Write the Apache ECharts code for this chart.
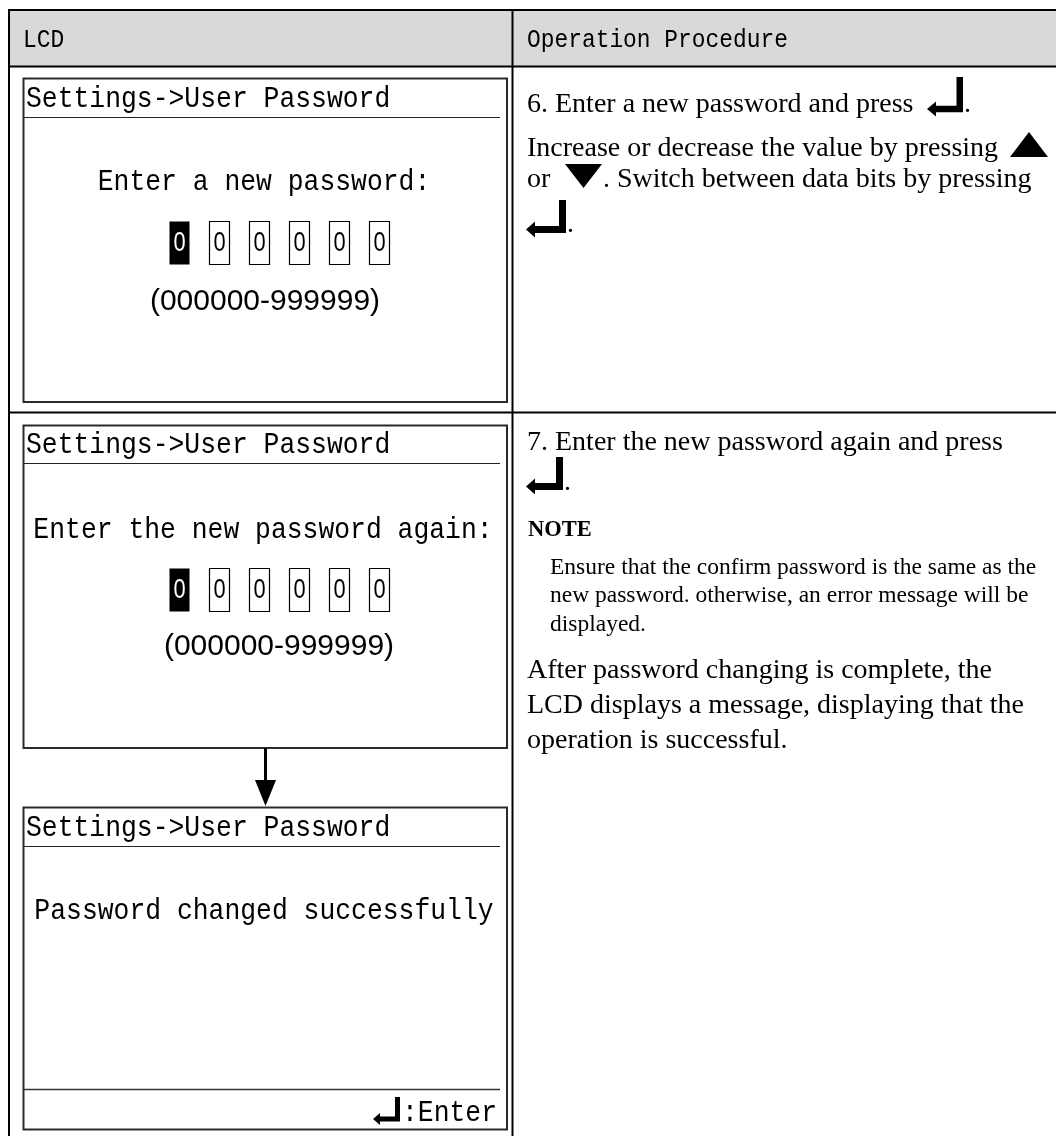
<!DOCTYPE html>
<html>
<head>
<meta charset="utf-8">
<script src="https://cdn.jsdelivr.net/npm/echarts@6/dist/echarts.min.js"></script>
<style>
html,body{margin:0;padding:0;background:#fff;}
#chart{width:1056px;height:1136px;}
</style>
</head>
<body>
<div id="chart"></div>
<script>
// ---- content ----
const headers = ['LCD', 'Operation Procedure'];
const screenTitles = ['Settings->User Password', 'Settings->User Password', 'Settings->User Password'];
const screenPrompts = ['Enter a new password:', 'Enter the new password again:', 'Password changed successfully'];
const passwordDigits = ['0', '0', '0', '0', '0', '0'];
const passwordRange = '(000000-999999)';
const footerLabel = ':Enter';
const step6Title = '6. Enter a new password and press';
const step6Line1 = 'Increase or decrease the value by pressing';
const step6Line2a = 'or';
const step6Line2b = '. Switch between data bits by pressing';
const step7Title = '7. Enter the new password again and press';
const noteTitle = 'NOTE';
const noteLines = ['Ensure that the confirm password is the same as the',
                   'new password. otherwise, an error message will be',
                   'displayed.'];
const resultLines = ['After password changing is complete, the',
                     'LCD displays a message, displaying that the',
                     'operation is successful.'];

// ---- styles ----
const MONO = '"Liberation Mono", "DejaVu Sans Mono", monospace';
const LCD_FONT = '29px ' + MONO;
const LCD_SX = 0.91;
const HEAD_FONT = '26px ' + MONO;
const HEAD_SX = 0.88;
const SANS = '"Liberation Sans", Arimo, sans-serif';
const SERIF = '"Liberation Serif", "DejaVu Serif", serif';
const INK = '#000';

const els = [];
function text(str, x, y, font, align, fill, sx) {
  els.push({type: 'text', silent: true, x: x, y: y, scaleX: sx || 1,
    style: {text: str, x: 0, y: 0, font: font,
    textAlign: align || 'left', textVerticalAlign: 'middle', fill: fill || INK}});
}
function line(x1, y1, x2, y2, w, c) {
  els.push({type: 'line', silent: true, shape: {x1: x1, y1: y1, x2: x2, y2: y2},
    style: {stroke: c || INK, lineWidth: w || 1}});
}
function rect(x, y, w, h, fill, stroke, lw) {
  els.push({type: 'rect', silent: true, shape: {x: x, y: y, width: w, height: h},
    style: {fill: fill || 'none', stroke: stroke || null, lineWidth: lw || 0}});
}
function poly(points) {
  els.push({type: 'polygon', silent: true, shape: {points: points}, style: {fill: INK}});
}
function enterIcon(x0, right, top, yc, t, hl, hh) {
  poly([[right - t, top], [right, top], [right, yc + t / 2], [x0 + hl, yc + t / 2],
        [x0 + hl, yc + hh], [x0, yc], [x0 + hl, yc - hh], [x0 + hl, yc - t / 2],
        [right - t, yc - t / 2]]);
}

// ---- table frame ----
rect(10, 11, 1046, 55, '#d9d9d9');
line(9, 10, 1056, 10, 2);
line(9, 66.5, 1056, 66.5, 2);
line(9, 412.5, 1056, 412.5, 2);
line(9, 9, 9, 1136, 2);
line(512.5, 10, 512.5, 1136, 2);
text(headers[0], 23, 40, HEAD_FONT, 'left', INK, HEAD_SX);
text(headers[1], 527, 40, HEAD_FONT, 'left', INK, HEAD_SX);

// ---- LCD screens ----
const BOX_L = 23.5, BOX_W = 483.5;
function screen(top, bottom, underline, title) {
  rect(BOX_L, top, BOX_W, bottom - top, '#fff', '#2a2a2a', 2);
  line(BOX_L, underline, 500, underline, 1.2, '#222');
  text(title, 26, (top + underline) / 2 + 1, LCD_FONT, 'left', INK, LCD_SX);
}
function digits(top, h) {
  passwordDigits.forEach(function (d, i) {
    const x = 169.5 + 40 * i;
    if (i === 0) {
      rect(x, top, 20, h, '#000');
      text(d, x + 10, top + h / 2, '28px ' + SANS, 'center', '#fff', 0.78);
    } else {
      rect(x, top, 20, h, '#fff', '#000', 1.2);
      text(d, x + 10, top + h / 2, '28px ' + SANS, 'center', INK, 0.78);
    }
  });
}

// screen 1
screen(78.5, 402, 117.5, screenTitles[0]);
text(screenPrompts[0], 264, 182, LCD_FONT, 'center', INK, LCD_SX);
digits(221.5, 43);
text(passwordRange, 265, 302, '30px ' + SANS, 'center');

// screen 2
screen(425.5, 748, 463.5, screenTitles[1]);
text(screenPrompts[1], 263, 530, LCD_FONT, 'center', INK, LCD_SX);
digits(568.5, 43);
text(passwordRange, 279, 647, '30px ' + SANS, 'center');

// arrow between screens
line(265.5, 748, 265.5, 783, 3);
poly([[255, 780], [276, 780], [265.5, 806]]);

// screen 3
screen(807.5, 1129.5, 846.5, screenTitles[2]);
text(screenPrompts[2], 264, 911, LCD_FONT, 'center', INK, LCD_SX);
line(BOX_L, 1089.5, 500, 1089.5, 1.5, '#333');
text(footerLabel, 497, 1113, LCD_FONT, 'right', INK, LCD_SX);
enterIcon(373, 400, 1097, 1119, 5, 7, 6);

// ---- operation procedure ----
const F28 = '28px ' + SERIF;
const F23 = '23.5px ' + SERIF;
text(step6Title, 527, 105, F28);
enterIcon(927, 963, 77, 109, 6.5, 9, 7.5);
text('.', 964, 105, F28);
text(step6Line1, 527, 149, F28);
poly([[1010, 157], [1048, 157], [1029, 132]]);
text(step6Line2a, 527, 180, F28);
poly([[565, 164], [602, 164], [583.5, 188]]);
text(step6Line2b, 603, 180, F28);
enterIcon(526, 566, 200, 229.5, 7, 9, 8);
text('.', 567, 225, F28);

text(step7Title, 527, 443, F28);
enterIcon(526, 563, 457, 486.5, 7, 9, 8);
text('.', 564, 483, F28);
text(noteTitle, 528, 530, 'bold 22.5px ' + SERIF);
noteLines.forEach(function (s, i) { text(s, 550, [568, 596, 625][i], F23); });
resultLines.forEach(function (s, i) { text(s, 527, [671, 706, 741][i], F28); });

const chart = echarts.init(document.getElementById('chart'), null, {renderer: 'canvas'});
chart.setOption({backgroundColor: '#fff', animation: false, graphic: {elements: els}});
</script>
</body>
</html>
